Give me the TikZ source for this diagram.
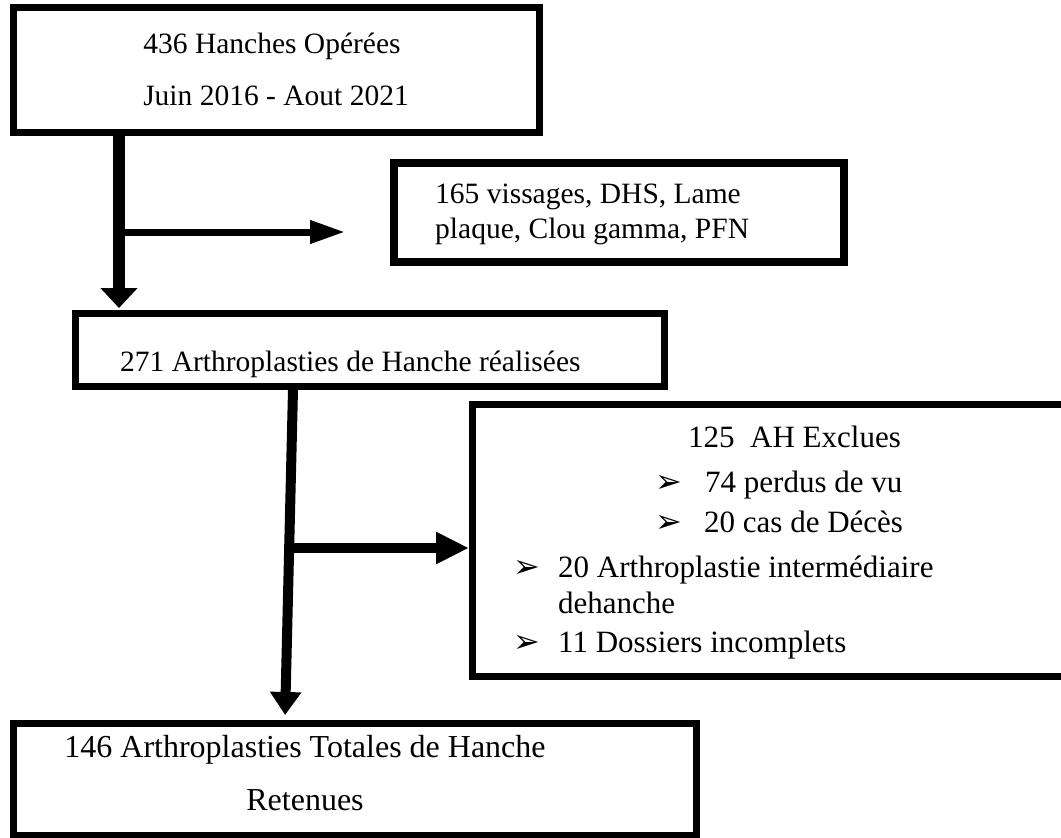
\documentclass[tikz,border=0pt]{standalone}
\usepackage{fontspec}
\setmainfont{Liberation Serif}
\newfontfamily\bulletfont{DejaVu Sans}
\usetikzlibrary{arrows.meta, calc}

\begin{document}
\begin{tikzpicture}[x=1pt, y=-1pt,
  box/.style={draw, rectangle, inner sep=0pt, line width=7pt},
  txt/.style={inner sep=0pt, font=\fontsize{29.5}{35}\selectfont},
  bigtxt/.style={inner sep=0pt, font=\fontsize{31}{36}\selectfont},
  bul/.style={inner sep=0pt, anchor=base west, font=\bulletfont\fontsize{32}{36}\selectfont}]
  \useasboundingbox (0,0) rectangle (1061,838);

  % Boxes
  \node[box, minimum width=526pt, minimum height=125pt] (operees) at (276.5,70) {};
  \node[box, line width=8pt, minimum width=450pt, minimum height=99pt] (synthese) at (619,212.5) {};
  \node[box, minimum width=589pt, minimum height=73pt] (realisees) at (370,350) {};
  \node[box, minimum width=624pt, minimum height=272pt] (exclues) at (784.5,540.5) {};
  \node[box, minimum width=683pt, minimum height=112pt] (retenues) at (355,779.5) {};

  % Texts
  \foreach \n/\x/\y/\t in {t1/272/53/{436 Hanches Opérées},
    t2/276/105/{Juin 2016 - Aout 2021}} {
    \node[txt, anchor=base, name=\n] at (\x,\y) {\t};
  }
  \foreach \n/\x/\y/\t in {t3/435/203/{165 vissages, DHS, Lame},
    t4/435/238/{plaque, Clou gamma, PFN},
    t5/120/371/{271 Arthroplasties de Hanche réalisées}} {
    \node[txt, anchor=base west, name=\n] at (\x,\y) {\t};
  }
  \foreach \n/\x/\y/\t in {e1/688/447/{125\ \ AH Exclues},
    e2/705/492/{74 perdus de vu},
    e3/704/532/{20 cas de Décès},
    e4/558/577/{20 Arthroplastie intermédiaire},
    e5/558/613/{dehanche},
    e6/558/652/{11 Dossiers incomplets}} {
    \node[bigtxt, anchor=base west, name=\n] at (\x,\y) {\t};
  }
  \foreach \n/\x/\y/\t in {t9/305/757/{146 Arthroplasties Totales de Hanche},
    t10/305/810/{Retenues}} {
    \node[bigtxt, font=\fontsize{32}{36}\selectfont, anchor=base, name=\n] at (\x,\y) {\t};
  }

  % Bullets
  \foreach \n/\x/\y in {b1/655/492, b2/655/532, b3/513/577, b4/513/652}
    \node[bul, name=\n] at (\x,\y) {➢};

  % Arrows
  \coordinate (split1) at (119,232);
  \coordinate (split2) at (289,548);
  \coordinate (drop) at (293,390);
  \coordinate (land) at (285,720);
  \draw[line width=12pt, -{Triangle[width=36pt, length=20pt]}, shorten >=2pt]
    (operees.south -| split1) -- (realisees.north -| split1);
  \draw[line width=7pt, -{Triangle[width=22pt, length=35pt]}, shorten >=45pt]
    (split1) -- (synthese.west |- split1);
  \draw[line width=10pt, -{Triangle[width=30pt, length=23pt]}, shorten >=5pt]
    (realisees.south -| drop) -- (retenues.north -| land);
  \draw[line width=10pt, -{Triangle[width=30pt, length=33pt]}]
    (split2) -- (exclues.west |- split2);
\end{tikzpicture}
\end{document}
